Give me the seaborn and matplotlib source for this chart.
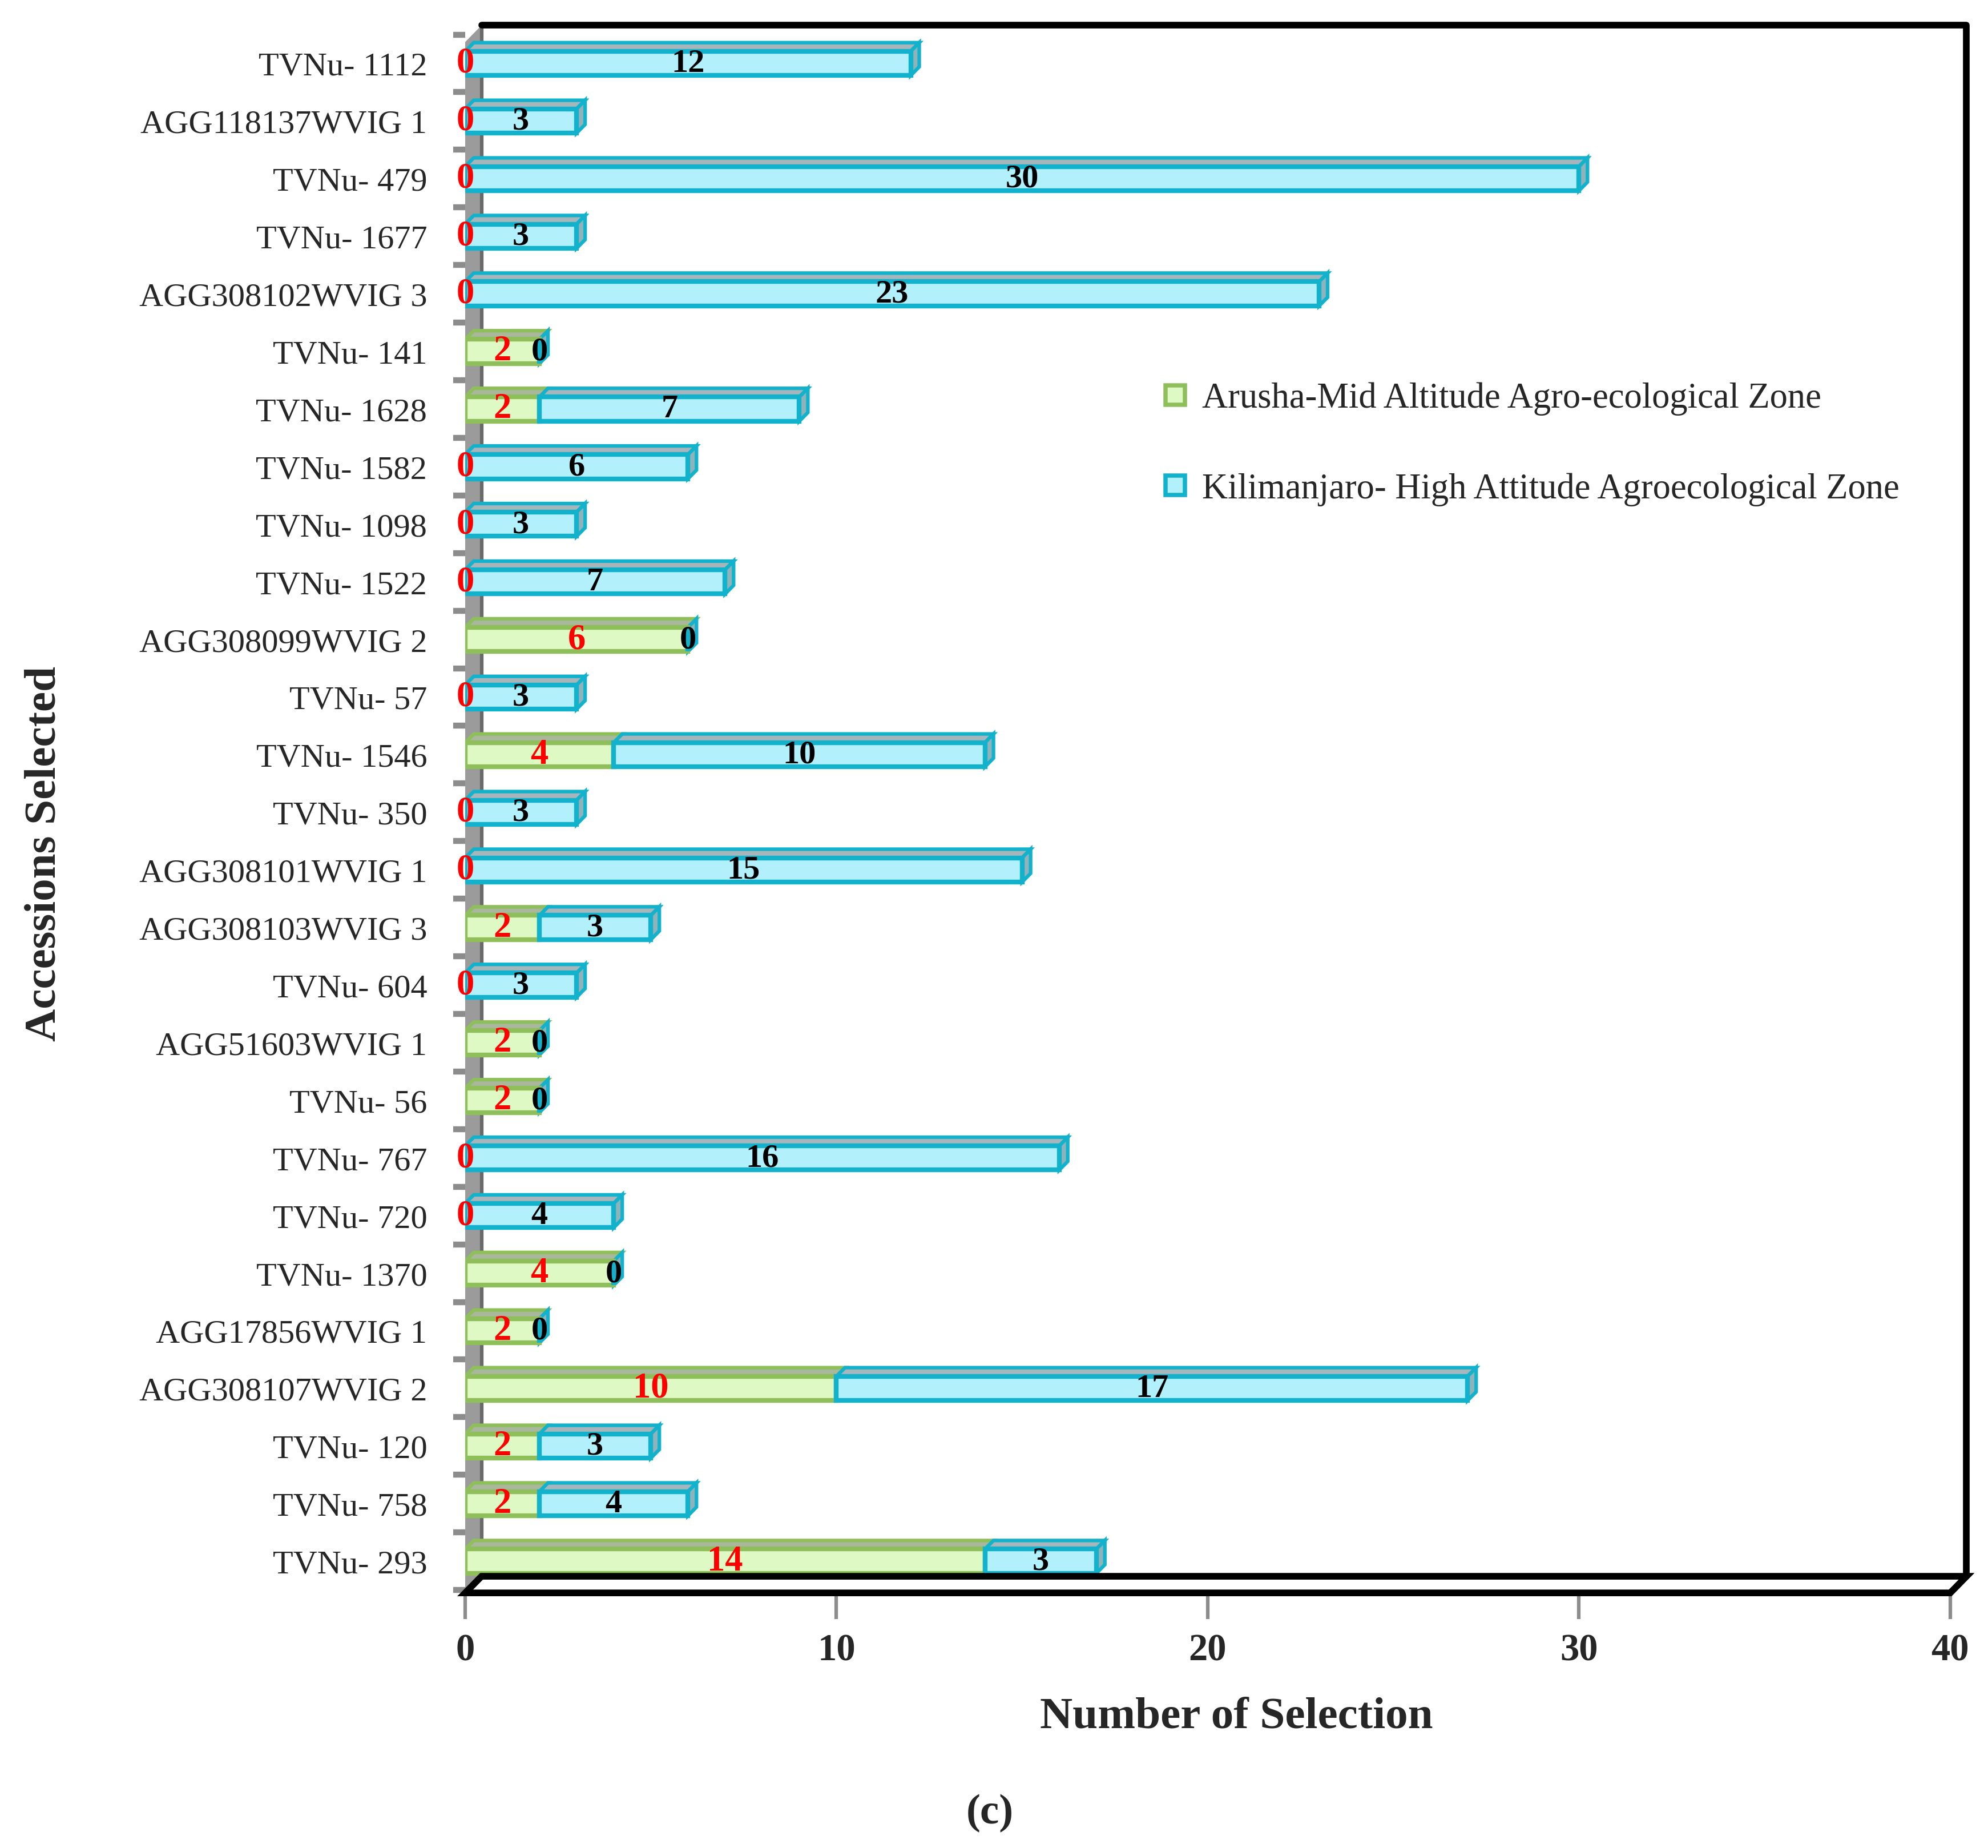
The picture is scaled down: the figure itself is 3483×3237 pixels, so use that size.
import numpy as np
import pandas as pd
import matplotlib.pyplot as plt
import seaborn as sns
from matplotlib.patches import Polygon
from matplotlib.lines import Line2D

# data, top to bottom as in the chart
accessions = ["TVNu- 1112", "AGG118137WVIG 1", "TVNu- 479", "TVNu- 1677",
              "AGG308102WVIG 3", "TVNu- 141", "TVNu- 1628", "TVNu- 1582",
              "TVNu- 1098", "TVNu- 1522", "AGG308099WVIG 2", "TVNu- 57",
              "TVNu- 1546", "TVNu- 350", "AGG308101WVIG 1", "AGG308103WVIG 3",
              "TVNu- 604", "AGG51603WVIG 1", "TVNu- 56", "TVNu- 767",
              "TVNu- 720", "TVNu- 1370", "AGG17856WVIG 1", "AGG308107WVIG 2",
              "TVNu- 120", "TVNu- 758", "TVNu- 293"]
arusha = [0, 0, 0, 0, 0, 2, 2, 0, 0, 0, 6, 0, 4, 0, 0, 2, 0, 2, 2, 0, 0, 4, 2, 10, 2, 2, 14]
kilimanjaro = [12, 3, 30, 3, 23, 0, 7, 6, 3, 7, 0, 3, 10, 3, 15, 3, 3, 0, 0, 16, 4, 0, 0, 17, 3, 4, 3]
x_ticks = [0, 10, 20, 30, 40]
legend_labels = ["Arusha-Mid Altitude Agro-ecological Zone",
                 "Kilimanjaro- High Attitude Agroecological Zone"]

df = pd.DataFrame({"accession": accessions, "arusha": arusha, "kilimanjaro": kilimanjaro})

sns.set_style("white")
plt.rcParams['font.family'] = ['Liberation Serif', 'DejaVu Serif']

green_face, green_edge, green_top = "#dff9c4", "#8fbf5a", "#a9b79c"
cyan_face, cyan_edge, cyan_top, cyan_side = "#b2f0fc", "#12b2cc", "#a6b6ba", "#8fb3bb"

fig = plt.figure(figsize=(11.61, 10.793), dpi=300)
ax = fig.add_axes([0.234, 0.138, 0.747, 0.848])

sns.barplot(data=df, y="accession", x="arusha", orient="h", color=green_face,
            saturation=1, width=0.42, edgecolor=green_edge, linewidth=2, ax=ax, zorder=3)
sns.barplot(data=df, y="accession", x="kilimanjaro", orient="h", color=cyan_face,
            saturation=1, width=0.42, edgecolor=cyan_edge, linewidth=2, ax=ax,
            left=df["arusha"], zorder=3)

# fake 3d faces built from the bars seaborn drew
dx, dy = 0.23, 0.15
green_bars, cyan_bars = ax.containers[0], ax.containers[1]
for bars, top_col, edge_col, side in [(green_bars, green_top, green_edge, False),
                                      (cyan_bars, cyan_top, cyan_edge, True)]:
    for p in bars.patches:
        x0, y0, w, h = p.get_x(), p.get_y(), p.get_width(), p.get_height()
        if w > 0:
            ax.add_patch(Polygon([(x0, y0), (x0 + w, y0), (x0 + w + dx, y0 - dy), (x0 + dx, y0 - dy)],
                                 facecolor=top_col, edgecolor=edge_col, lw=1.5, zorder=2.5))
        if side:
            ax.add_patch(Polygon([(x0 + w, y0), (x0 + w, y0 + h), (x0 + w + dx, y0 + h - dy),
                                  (x0 + w + dx, y0 - dy)],
                                 facecolor=cyan_side, edgecolor=cyan_edge, lw=1.5, zorder=2.6))

ax.bar_label(green_bars, labels=[str(v) for v in arusha], label_type="center",
             color="red", fontsize=15, fontweight="bold", zorder=5)
ax.bar_label(cyan_bars, labels=[str(v) for v in kilimanjaro], label_type="center",
             color="black", fontsize=14, fontweight="bold", zorder=5)

ax.set_xlim(0, 40)
ax.set_ylim(26.55, -0.66)
for s in ax.spines.values():
    s.set_visible(False)

# walls, floor and box
d, dyb = 0.011, 0.0106
T = ax.transAxes
ax.add_patch(Polygon([(0, 0), (d, dyb), (d, 1), (0, 1 - dyb)], transform=T,
                     facecolor="#9b9b9b", edgecolor="none", zorder=1, clip_on=False))
ax.add_line(Line2D([d, d], [dyb, 1], transform=T, color="#6a6a6a", lw=1.5, zorder=1.5, clip_on=False))
ax.add_line(Line2D([d, 1 + d, 1 + d], [1, 1, dyb], transform=T, color="black", lw=2.8,
                   zorder=1.5, clip_on=False))
ax.add_patch(Polygon([(0, 0), (1, 0), (1 + d, dyb), (d, dyb)], transform=T,
                     facecolor="white", edgecolor="black", lw=2.8, zorder=4, clip_on=False))

ax.set_xticks(x_ticks)
ax.set_xticklabels([str(t) for t in x_ticks], fontsize=16, fontweight="bold")
ax.tick_params(axis="x", bottom=True, length=11, width=1.5, color="#8c8c8c", pad=6)
ax.set_yticks(np.arange(len(accessions)))
ax.set_yticklabels(accessions, fontsize=14)
ax.set_yticks(np.arange(-0.5, len(accessions), 1), minor=True)
ax.tick_params(axis="y", which="major", left=False, length=0, pad=16)
ax.tick_params(axis="y", which="minor", left=True, length=5, width=2.5, color="#8c8c8c")
ax.set_xlabel("")
ax.set_ylabel("")

handles = [Line2D([], [], ls="none", marker="s", markersize=8, markerfacecolor=green_face,
                  markeredgecolor=green_edge, markeredgewidth=1.8),
           Line2D([], [], ls="none", marker="s", markersize=8, markerfacecolor=cyan_face,
                  markeredgecolor=cyan_edge, markeredgewidth=1.8)]
ax.legend(handles, legend_labels, loc="upper left", bbox_to_anchor=(0.447, 0.793),
          frameon=False, fontsize=15, labelspacing=1.6, handlelength=0.8, handletextpad=0.35)

fig.text(0.0225, 0.538, "Accessions Selected", rotation=90, ha="center", va="center",
         fontsize=19, fontweight="bold")
fig.text(0.622, 0.071, "Number of Selection", ha="center", va="center",
         fontsize=19, fontweight="bold")
fig.text(0.498, 0.019, "(c)", ha="center", va="center", fontsize=18, fontweight="bold")

fig.savefig("out.png", dpi=300)
